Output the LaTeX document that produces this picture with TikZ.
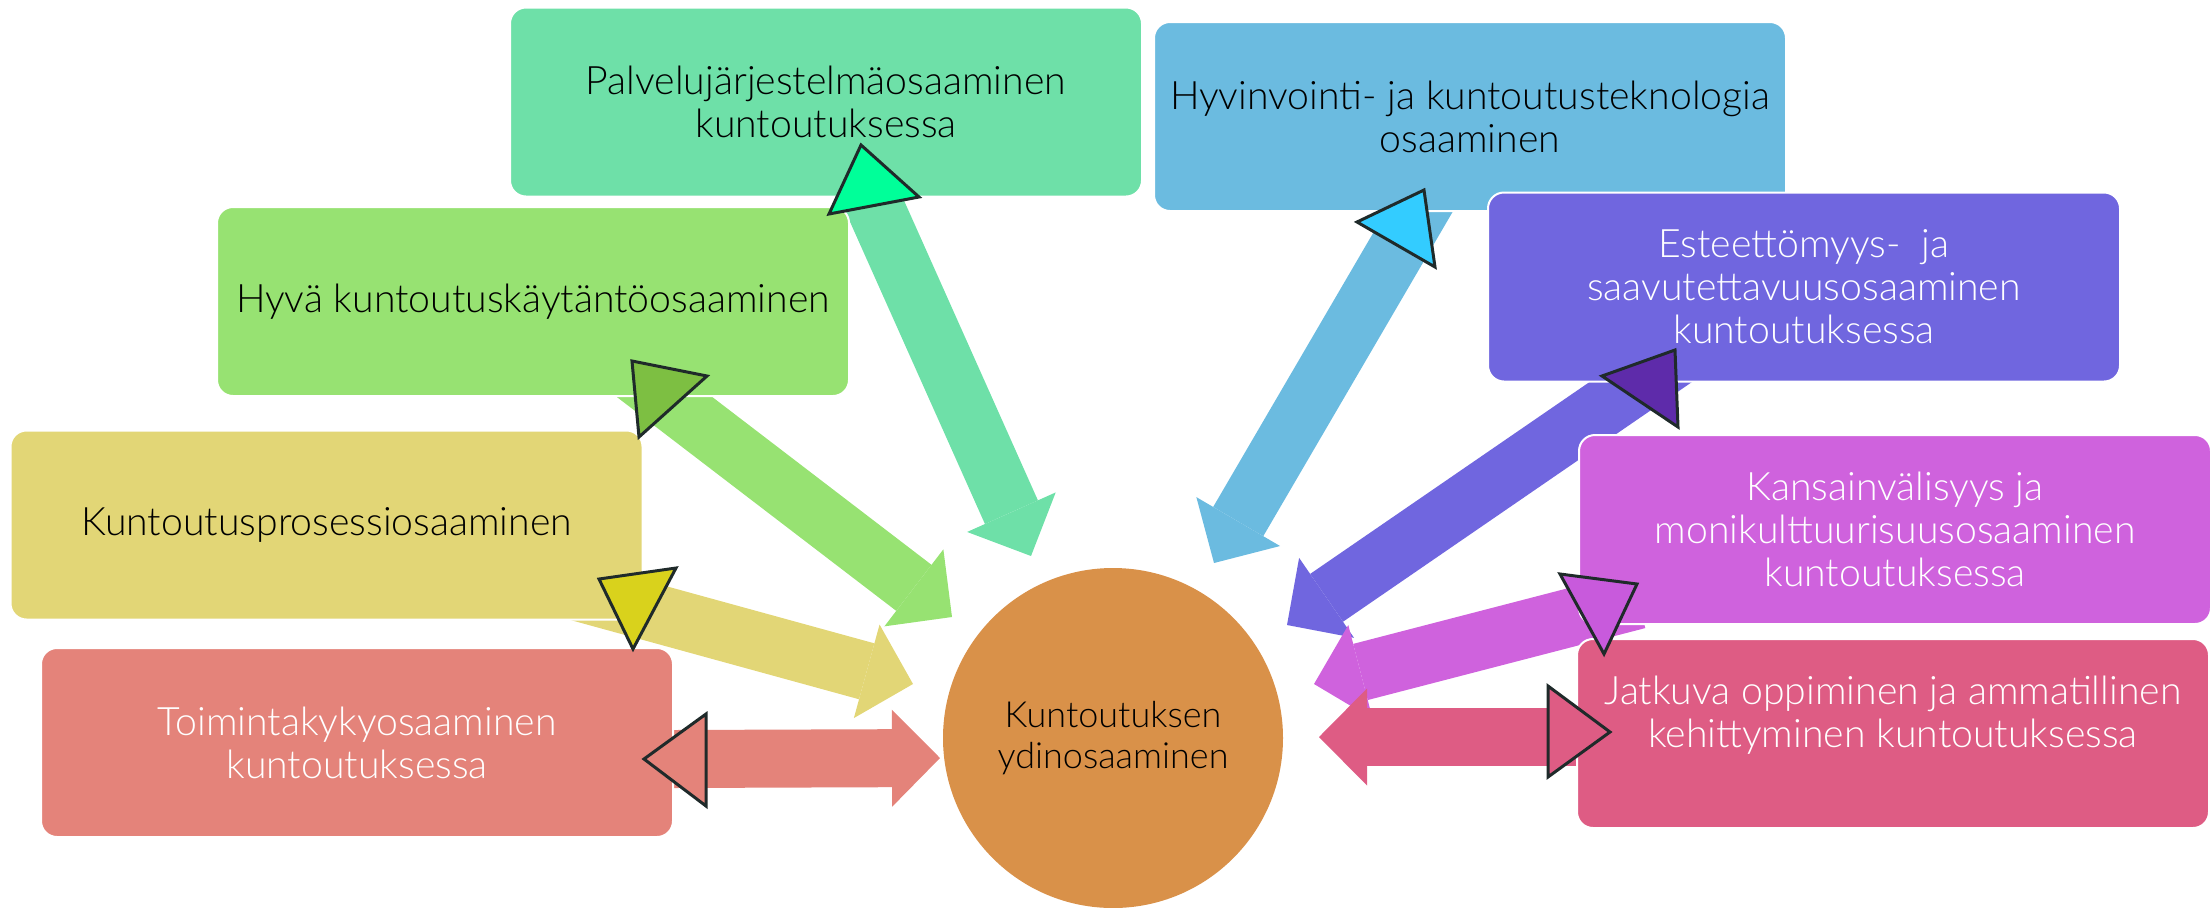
\documentclass[tikz,border=0pt]{standalone}
\usepackage{fontspec}
\setmainfont{Lato Light}
\usetikzlibrary{arrows.meta, calc, positioning}

\definecolor{cPalv}{HTML}{6EE0A8}
\definecolor{cPalvT}{HTML}{00FF99}
\definecolor{cTekn}{HTML}{6BBBE0}
\definecolor{cTeknT}{HTML}{33CCFF}
\definecolor{cEste}{HTML}{7066DF}
\definecolor{cEsteT}{HTML}{5E2BAA}
\definecolor{cHyva}{HTML}{97E272}
\definecolor{cHyvaT}{HTML}{7DBF42}
\definecolor{cPros}{HTML}{E2D676}
\definecolor{cProsT}{HTML}{D9D21C}
\definecolor{cToim}{HTML}{E4837A}
\definecolor{cKans}{HTML}{CF62DD}
\definecolor{cKansT}{HTML}{C85ADC}
\definecolor{cJatk}{HTML}{DE5C84}
\definecolor{cCore}{HTML}{D99149}
\definecolor{cEdge}{HTML}{1F2A2A}

\begin{document}
\begin{tikzpicture}
  [
    x=0.5pt, y=-0.5pt,
    box/.style   = {draw=white, line width=1pt, rounded corners=8pt,
                    minimum width=316pt, minimum height=94.5pt, inner sep=0pt,
                    align=center, font=\fontsize{19.6}{21.5}\selectfont},
    core/.style  = {circle, fill=cCore, minimum size=170pt, inner sep=0pt,
                    align=center, font=\fontsize{18}{20.5}\selectfont},
    shaft/.style = {line width=29pt,
                    -{Triangle[length=24pt, width=48.5pt, line width=0pt]}},
    tri/.style   = {draw=cEdge, line width=1.5pt, line join=miter},
  ]

  \useasboundingbox (0,0) rectangle (2212,907);

  % arrow ends
  \coordinate (palv-in) at (868,191);   \coordinate (palv-tip) at (1031,556);
  \coordinate (tekn-in) at (1440,176);  \coordinate (tekn-tip) at (1214,563);
  \coordinate (este-in) at (1699,342);  \coordinate (este-tip) at (1287,625);
  \coordinate (hyva-in) at (611,356);   \coordinate (hyva-tip) at (952,617);
  \coordinate (pros-in) at (527,578);   \coordinate (pros-tip) at (913,684);
  \coordinate (toim-in) at (674,759);   \coordinate (toim-tip) at (940,758);
  \coordinate (kans-in) at (1638,600);  \coordinate (kans-tip) at (1314,684);
  \coordinate (jatk-in) at (1578,737);  \coordinate (jatk-tip) at (1319,737);

  % the shafts
  \draw[shaft, cPalv] (palv-in) -- (palv-tip);
  \draw[shaft, cTekn] (tekn-in) -- (tekn-tip);
  \draw[shaft, cEste] (este-in) -- (este-tip);
  \draw[shaft, cHyva] (hyva-in) -- (hyva-tip);
  \draw[shaft, cPros] (pros-in) -- (pros-tip);
  \draw[shaft, cToim] (toim-in) -- (toim-tip);
  \draw[shaft, cKans] (kans-in) -- (kans-tip);
  \draw[shaft, cJatk] (jatk-in) -- (jatk-tip);

  % the circle
  \node[core] (core) at (1113,738) {Kuntoutuksen\\ydinosaaminen};

  % the boxes
  \node[box, fill=cPalv] (palv) at (826,102) {Palvelujärjestelmäosaaminen\\kuntoutuksessa};
  \node[box, fill=cTekn] (tekn) at (1470,116.5) {Hyvinvointi- ja kuntoutusteknologia\\osaaminen};
  \node[box, fill=cEste, text=white] (este) at (1804,287) {Esteettömyys-\ \ ja\\saavutettavuusosaaminen\\kuntoutuksessa};
  \node[box, fill=cHyva] (hyva) at (533,301.5) {Hyvä kuntoutuskäytäntöosaaminen};
  \node[box, fill=cPros] (pros) at (326.5,525) {Kuntoutusprosessiosaaminen};
  \node[box, fill=cToim, text=white] (toim) at (357,742.5) {Toimintakykyosaaminen\\kuntoutuksessa};
  \node[box, fill=cKans, text=white] (kans) at (1895,529.5) {Kansainvälisyys ja\\monikulttuurisuusosaaminen\\kuntoutuksessa};
  \node[box, fill=cJatk, text=white] (jatk) at (1893,733.5) {Jatkuva oppiminen ja ammatillinen\\kehittyminen kuntoutuksessa\\\mbox{}};

  % triangles at the box ends
  \filldraw[tri, fill=cPalvT] (861,145) -- (829,214) -- (919,197) -- cycle;
  \filldraw[tri, fill=cTeknT] (1424,190) -- (1357,222) -- (1435,267) -- cycle;
  \filldraw[tri, fill=cEsteT] (1602,376) -- (1675,350) -- (1678,427) -- cycle;
  \filldraw[tri, fill=cHyvaT] (632,361) -- (707,376) -- (639,437) -- cycle;
  \filldraw[tri, fill=cProsT] (599,579) -- (676,568) -- (633,649) -- cycle;
  \filldraw[tri, fill=cToim] (706,714) -- (644,759) -- (706,806) -- cycle;
  \filldraw[tri, fill=cKansT] (1560,574) -- (1637,584) -- (1604,654) -- cycle;
  \filldraw[tri, fill=cJatk] (1548,686) -- (1610,732) -- (1548,777) -- cycle;

\end{tikzpicture}
\end{document}
